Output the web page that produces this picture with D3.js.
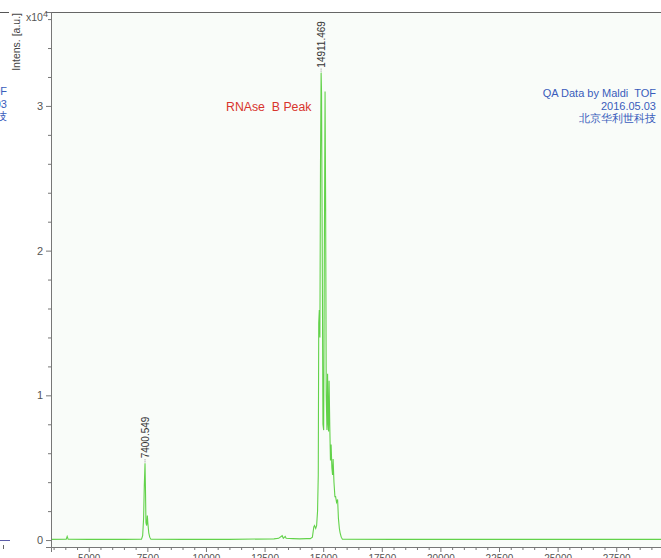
<!DOCTYPE html>
<html lang="en">
<head>
<meta charset="UTF-8">
<title>RNAse B Peak - Maldi TOF</title>
<script src="https://d3js.org/d3.v7.min.js"></script>
<style>
  body { margin: 0; background: #fff; overflow: hidden; }
  svg { display: block; font-family: 'Liberation Sans', Arial, sans-serif; }
  text { white-space: pre; }
</style>
</head>
<body>
<div id="chart"></div>
<script>
// spectrum: [m/z, intensity in 1e4 a.u.]
const baseline = [
  [3390, 0.005], [4040, 0.006], [4080, 0.025], [4120, 0.006], [5000, 0.005],
  [6500, 0.005], [7250, 0.006]
];
const peak7400 = [
  [7300, 0.03], [7340, 0.15], [7370, 0.38], [7400.549, 0.53], [7420, 0.35],
  [7440, 0.12], [7470, 0.10], [7500, 0.17], [7520, 0.12], [7560, 0.05],
  [7600, 0.02], [7650, 0.006]
];
const middle = [
  [9000, 0.005], [11000, 0.005], [12900, 0.008], [13100, 0.012], [13250, 0.03],
  [13300, 0.012], [13380, 0.025], [13420, 0.012], [13700, 0.01], [14000, 0.008],
  [14300, 0.01], [14450, 0.01]
];
const peak14911 = [
  [14540, 0.02], [14600, 0.09], [14630, 0.10], [14680, 0.08], [14720, 0.10],
  [14760, 0.2], [14790, 0.45], [14810, 1.5], [14835, 1.59], [14860, 1.4],
  [14885, 2.6], [14911.469, 3.23], [14930, 3.09], [14960, 2.0], [14990, 0.8],
  [15020, 0.76], [15050, 2.0], [15080, 3.10], [15105, 2.3], [15130, 1.0],
  [15160, 0.76], [15188, 1.15], [15210, 0.8], [15230, 0.75], [15252, 1.1],
  [15280, 0.8], [15310, 0.55], [15338, 0.66], [15370, 0.5], [15400, 0.45],
  [15423, 0.56], [15460, 0.4], [15500, 0.3], [15530, 0.3], [15570, 0.26],
  [15615, 0.28], [15650, 0.15], [15690, 0.08], [15722, 0.05], [15770, 0.02],
  [15820, 0.006]
];
const tail = [[18000, 0.005], [24000, 0.005], [31100, 0.005]];

const peakLabels = [
  { mz: 7400.549, v: 0.53, text: "7400.549" },
  { mz: 14911.469, v: 3.23, text: "14911.469" }
];
const xMajorTicks = [5000, 7500, 10000, 12500, 15000, 17500, 20000, 22500, 25000, 27500, 30000];
const yMajorTicks = [0, 1, 2, 3];
const noteLines = ["QA Data by Maldi  TOF", "2016.05.03", "北京华利世科技"];
const title = "RNAse  B Peak";

const W = 661, H = 558;
const plot = { left: 51, top: 12, right: 700, bottom: 547 };

const svg = d3.select("#chart").append("svg")
  .attr("width", W).attr("height", H);

// scales (0 sits at y=540, axis line a bit lower)
const x = d3.scaleLinear().domain([3390, 31073]).range([plot.left, plot.right]);
const y = d3.scaleLinear().domain([-0.048, 3.649]).range([plot.bottom, plot.top]);

// plot background
svg.append("rect")
  .attr("x", plot.left).attr("y", plot.top)
  .attr("width", plot.right - plot.left).attr("height", plot.bottom - plot.top)
  .attr("fill", "#f9fcf9");

// partial neighbour window on the left edge
const side = svg.append("g");
side.append("line").attr("x1", 0).attr("x2", 9).attr("y1", 12.5).attr("y2", 12.5)
  .attr("stroke", "#555");
side.append("line").attr("x1", 0).attr("x2", 10).attr("y1", 540.5).attr("y2", 540.5)
  .attr("stroke", "#5c5ca8");
side.append("line").attr("x1", 3.5).attr("x2", 3.5).attr("y1", 545).attr("y2", 549)
  .attr("stroke", "#666");
side.selectAll("text").data(noteLines).enter().append("text")
  .attr("x", 7).attr("y", (d, i) => 95 + i * 12.5)
  .attr("text-anchor", "end").attr("font-size", 11).attr("fill", "#3a5cbc")
  .text(d => d);

// spectrum
const spectrum = [].concat(baseline, peak7400, middle, peak14911, tail);
svg.append("clipPath").attr("id", "clip").append("rect")
  .attr("x", plot.left).attr("y", plot.top)
  .attr("width", plot.right - plot.left).attr("height", plot.bottom - plot.top);

svg.append("path")
  .datum(spectrum)
  .attr("clip-path", "url(#clip)")
  .attr("fill", "none")
  .attr("stroke", "#62d24a")
  .attr("stroke-width", 1.1)
  .attr("d", d3.line().x(d => x(d[0])).y(d => y(d[1])));

// frame: top border + axes
svg.append("line")
  .attr("x1", plot.left).attr("x2", W).attr("y1", plot.top + 0.5).attr("y2", plot.top + 0.5)
  .attr("stroke", "#666");

const xMinor = d3.range(3500, 31001, 500).filter(t => t % 2500 !== 0);
const xAxis = svg.append("g").attr("transform", `translate(0,${plot.bottom})`);
xAxis.call(d3.axisBottom(x).tickValues(xMajorTicks).tickSize(5).tickPadding(3)
  .tickFormat(d3.format("d")));
xAxis.select(".domain").attr("stroke", "#777");
xAxis.selectAll(".tick line").attr("stroke", "#777");
xAxis.selectAll(".tick text").attr("fill", "#555").attr("font-size", 10)
  .attr("font-family", "'Liberation Sans', Arial, sans-serif");
xAxis.selectAll("line.minor").data(xMinor).enter().append("line")
  .attr("class", "minor")
  .attr("x1", d => x(d) + 0.5).attr("x2", d => x(d) + 0.5)
  .attr("y1", 0).attr("y2", 3).attr("stroke", "#777");

const yMinor = d3.range(0.2, 3.61, 0.2).filter(t => Math.abs(t - Math.round(t)) > 0.01);
const yAxis = svg.append("g").attr("transform", `translate(${plot.left},0)`);
yAxis.call(d3.axisLeft(y).tickValues(yMajorTicks).tickSize(5).tickPadding(3)
  .tickFormat(d3.format("d")));
yAxis.select(".domain").attr("stroke", "#777");
yAxis.selectAll(".tick line").attr("stroke", "#777");
yAxis.selectAll(".tick text").attr("fill", "#555").attr("font-size", 11)
  .attr("font-family", "'Liberation Sans', Arial, sans-serif");
yAxis.selectAll("line.minor").data(yMinor).enter().append("line")
  .attr("class", "minor")
  .attr("x1", -3).attr("x2", 0)
  .attr("y1", d => y(d) + 0.5).attr("y2", d => y(d) + 0.5).attr("stroke", "#777");

// y title and exponent
svg.append("text")
  .attr("transform", "translate(20,13) rotate(-90)")
  .attr("text-anchor", "end").attr("font-size", 10.5).attr("fill", "#444")
  .text("Intens. [a.u.]");
const expo = svg.append("text").attr("x", 26).attr("y", 21)
  .attr("font-size", 10.5).attr("fill", "#555");
expo.append("tspan").text("x10");
expo.append("tspan").attr("dy", -4).attr("font-size", 9).text("4");

// peak labels with dotted leaders
peakLabels.forEach(p => {
  const px = x(p.mz), py = y(p.v);
  svg.append("line")
    .attr("x1", px).attr("x2", px).attr("y1", py - 1).attr("y2", py - 5)
    .attr("stroke", "#888").attr("stroke-dasharray", "1,1");
  svg.append("text")
    .attr("transform", `translate(${px + 3.5},${py - 5}) rotate(-90)`)
    .attr("font-size", 10).attr("fill", "#333")
    .text(p.text);
});

// annotations
svg.append("text").attr("x", 226).attr("y", 111)
  .attr("font-size", 12.3).attr("fill", "#d8342c").text(title);

svg.selectAll("text.note").data(noteLines).enter().append("text")
  .attr("class", "note")
  .attr("x", 656).attr("y", (d, i) => 97 + i * 12.5)
  .attr("text-anchor", "end").attr("font-size", 11).attr("fill", "#3a5cbc")
  .text(d => d);
</script>
</body>
</html>
